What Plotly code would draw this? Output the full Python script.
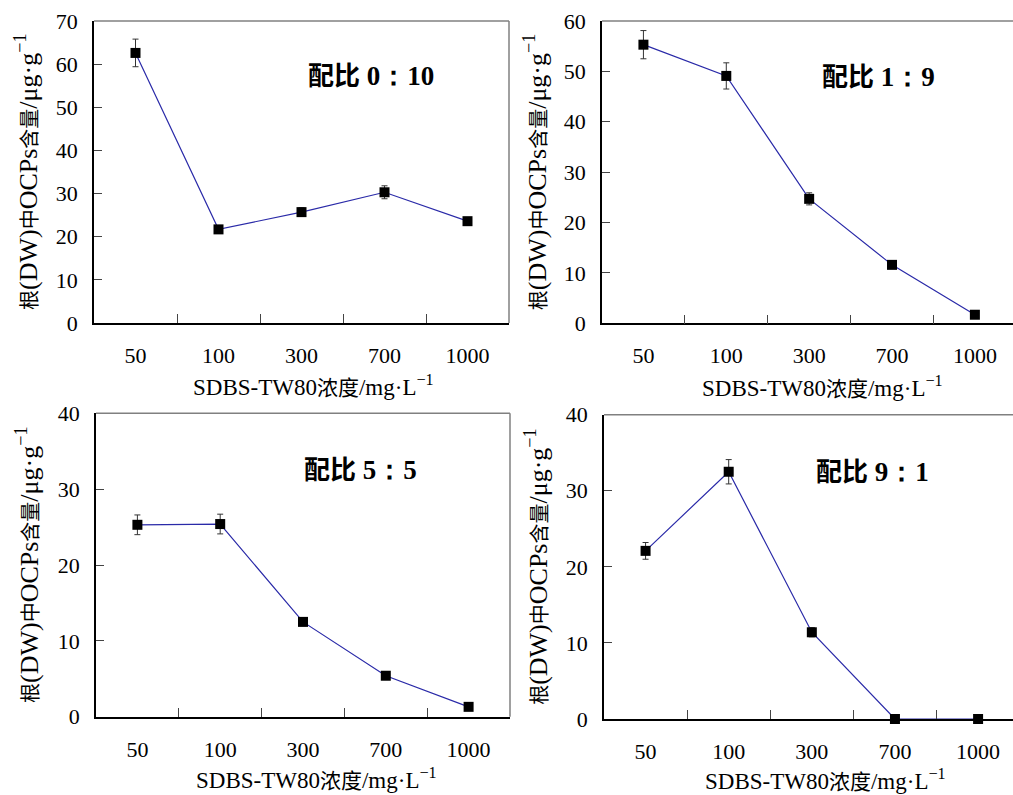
import plotly.graph_objects as go

categories = ["50", "100", "300", "700", "1000"]

ratio_labels = ["0：10", "1：9", "5：5", "9：1"]

vals_0_10 = [62.6, 21.7, 25.7, 30.3, 23.6]
err_0_10 = [3.2, 0.8, 1.0, 1.5, 0.8]

vals_1_9 = [55.3, 49.1, 24.7, 11.6, 1.7]
err_1_9 = [2.8, 2.6, 1.2, 0.6, 0.4]

vals_5_5 = [25.3, 25.4, 12.5, 5.4, 1.3]
err_5_5 = [1.3, 1.3, 0.5, 0.4, 0.2]

vals_9_1 = [22.1, 32.5, 11.4, 0.0, 0.0]
err_9_1 = [1.1, 1.6, 0.6, 0.0, 0.0]

y_max = [70, 60, 40, 40]

W, H = 1013, 795

# panel pixel boxes: (left, right, top, bottom) and category x-range max
panels = [
    (94, 509, 21, 323, 4.5),
    (602, 1013, 21, 323.3, 4.46),
    (96, 510, 413.3, 716.7, 4.5),
    (604, 1013, 414.7, 719, 4.42),
]
series = [(vals_0_10, err_0_10), (vals_1_9, err_1_9), (vals_5_5, err_5_5), (vals_9_1, err_9_1)]
ratio_pos = [(371, 74), (878, 75), (360, 467), (872, 469)]
ytitle_x = [27, 535, 27, 537]
xtitle_pos = [(313, 386), (822, 387), (316, 779), (825, 780)]

LAT = "'Liberation Serif', 'Times New Roman', serif"
CJK = "'Noto Sans CJK SC', sans-serif"


def cj(s, size, bold=False):
    w = "font-weight:bold;" if bold else ""
    return f"<span style=\"font-family:{CJK};font-size:{size}px;{w}\">{s}</span>"


ytitle_text = (cj("根", 20) + "(DW)" + cj("中", 20) + "OCPs" + cj("含量", 20)
               + "/μg·g<sup>−1</sup>")
xtitle_text = "SDBS-TW80" + cj("浓度", 21) + "/mg·L<sup>−1</sup>"

fig = go.Figure()
layout = dict(
    width=W, height=H, margin=dict(l=0, r=0, t=0, b=0, autoexpand=False),
    paper_bgcolor="white", plot_bgcolor="white", showlegend=False,
    font=dict(family=LAT, size=22, color="black"),
)
annotations = []
shapes = []

for i, ((l, r, t, b, xmax), (vals, errs)) in enumerate(zip(panels, series)):
    xa = "x" if i == 0 else f"x{i+1}"
    ya = "y" if i == 0 else f"y{i+1}"
    fig.add_trace(go.Scatter(
        x=categories, y=vals, xaxis=xa, yaxis=ya,
        mode="lines+markers",
        line=dict(color="#2a2aa8", width=1.2),
        marker=dict(symbol="square", size=10, color="black"),
        error_y=dict(type="data", array=errs, visible=True, color="#333333",
                     thickness=1, width=3),
        cliponaxis=False,
    ))
    xd = [l / W, r / W]
    yd = [1 - b / H, 1 - t / H]
    layout["xaxis" + ("" if i == 0 else str(i + 1))] = dict(
        domain=xd, anchor=ya, type="category",
        categoryorder="array", categoryarray=categories,
        range=[-0.5, xmax], tickson="boundaries", ticks="inside", ticklen=9,
        tickcolor="#444", showline=True, linecolor="black", linewidth=1.5,
        showgrid=False, zeroline=False, ticklabelstandoff=12,
        tickfont=dict(family=LAT, size=22),
    )
    layout["yaxis" + ("" if i == 0 else str(i + 1))] = dict(
        domain=yd, anchor=xa, range=[0, y_max[i]], dtick=10,
        ticks="inside", ticklen=8, tickcolor="#444",
        showline=True, linecolor="black", linewidth=1.5,
        showgrid=False, zeroline=False, ticklabelstandoff=10,
        tickfont=dict(family=LAT, size=22),
    )
    # gray frame top and right
    shapes.append(dict(type="line", xref="paper", yref="paper",
                       x0=xd[0], x1=xd[1], y0=yd[1], y1=yd[1],
                       line=dict(color="#808080", width=1.5)))
    if r < W:
        shapes.append(dict(type="line", xref="paper", yref="paper",
                           x0=xd[1], x1=xd[1], y0=yd[0], y1=yd[1],
                           line=dict(color="#808080", width=1.5)))
    cx, cy = ratio_pos[i]
    annotations.append(dict(
        x=cx / W, y=1 - cy / H, xref="paper", yref="paper",
        text=cj("配比", 26, bold=True) + " <b>" + ratio_labels[i] + "</b>",
        showarrow=False,
        font=dict(family=LAT, size=27, color="black"),
        xanchor="center", yanchor="middle",
    ))
    annotations.append(dict(
        x=ytitle_x[i] / W, y=1 - ((t + b) / 2) / H, xref="paper", yref="paper",
        text=ytitle_text, textangle=-90, showarrow=False,
        font=dict(family=LAT, size=26, color="black"),
        xanchor="center", yanchor="middle",
    ))
    tx, ty = xtitle_pos[i]
    annotations.append(dict(
        x=tx / W, y=1 - ty / H, xref="paper", yref="paper",
        text=xtitle_text, showarrow=False,
        font=dict(family=LAT, size=23, color="black"),
        xanchor="center", yanchor="middle",
    ))

layout["annotations"] = annotations
layout["shapes"] = shapes
fig.update_layout(**layout)
fig.write_html("out.html")
